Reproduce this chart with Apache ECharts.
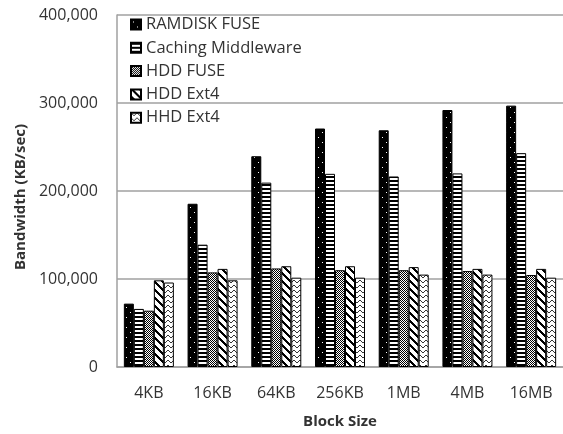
<!DOCTYPE html>
<html>
<head>
<meta charset="utf-8">
<script src="https://cdn.jsdelivr.net/npm/echarts@6/dist/echarts.min.js"></script>
<style>
html,body{margin:0;padding:0;background:#fff;}
#c{width:563px;height:434px;}
</style>
</head>
<body>
<div id="c"></div>
<script>
var categories = ['4KB', '16KB', '64KB', '256KB', '1MB', '4MB', '16MB'];
var seriesNames = ['RAMDISK FUSE', 'Caching Middleware', 'HDD FUSE', 'HDD Ext4', 'HHD Ext4'];
var ramdiskFuse = [72000, 185500, 239500, 271000, 269000, 292000, 297000];
var cachingMiddleware = [66000, 139000, 209500, 219500, 216500, 220000, 243000];
var hddFuse = [64000, 107500, 112000, 110000, 110000, 109000, 104500];
var hddExt4 = [98500, 111500, 114500, 114500, 113500, 111500, 111500];
var hhdExt4 = [96000, 98500, 101500, 101500, 105000, 105000, 101500];
var yTicks = [0, 100000, 200000, 300000, 400000];

function makeTile(w, h, fn) {
  var c = document.createElement('canvas');
  c.width = w; c.height = h;
  var ctx = c.getContext('2d');
  fn(ctx, w, h);
  return c;
}
function px(ctx, x, y, col) { ctx.fillStyle = col; ctx.fillRect(x, y, 1, 1); }

var patDots = makeTile(8, 10, function (ctx, w, h) {
  ctx.fillStyle = '#000'; ctx.fillRect(0, 0, w, h);
  px(ctx, 2, 2, '#fff'); px(ctx, 6, 7, '#fff');
});
var patHoriz = makeTile(4, 4, function (ctx, w, h) {
  ctx.fillStyle = '#fff'; ctx.fillRect(0, 0, w, h);
  ctx.fillStyle = '#000'; ctx.fillRect(0, 0, w, 2);
});
var patCheck = makeTile(4, 4, function (ctx, w, h) {
  ctx.fillStyle = '#fff'; ctx.fillRect(0, 0, w, h);
  for (var y = 0; y < h; y++) for (var x = 0; x < w; x++) {
    if ((x + y) % 2 === 0) px(ctx, x, y, '#000');
  }
  px(ctx, 1, 1, '#000');
});
var patDiag = makeTile(8, 8, function (ctx, w, h) {
  ctx.fillStyle = '#fff'; ctx.fillRect(0, 0, w, h);
  for (var y = 0; y < h; y++) for (var x = 0; x < w; x++) {
    if ((((x - y) % 8) + 8) % 8 < 3) px(ctx, x, y, '#000');
  }
});
var patWave = makeTile(6, 5, function (ctx, w, h) {
  ctx.fillStyle = '#fff'; ctx.fillRect(0, 0, w, h);
  var pts = [[0,0],[1,1],[2,2],[3,2],[4,1],[5,0]];
  pts.forEach(function (p) { px(ctx, p[0], p[1], '#333'); });
});

var patterns = [patDots, patHoriz, patCheck, patDiag, patWave];
var dataSets = [ramdiskFuse, cachingMiddleware, hddFuse, hddExt4, hhdExt4];

var FONT = 'Open Sans';
var chart = echarts.init(document.getElementById('c'), null, {renderer: 'canvas'});
var series = seriesNames.map(function (name, i) {
  return {
    name: name,
    type: 'bar',
    data: dataSets[i],
    barWidth: 10,
    barGap: '0%',
    itemStyle: {
      color: {image: patterns[i], repeat: 'repeat'},
      borderColor: '#000',
      borderWidth: 1
    },
    emphasis: {disabled: true},
    animation: false
  };
});

chart.setOption({
  animation: false,
  backgroundColor: '#fff',
  grid: {left: 117, top: 15, width: 452, bottom: 65, containLabel: false},
  legend: {
    orient: 'vertical',
    left: 130,
    top: 16,
    padding: 0,
    icon: 'rect',
    itemWidth: 10,
    itemHeight: 10,
    itemGap: 6.3,
    selectedMode: false,
    data: seriesNames,
    textStyle: {fontFamily: FONT, fontSize: 16.5, color: '#333', lineHeight: 17}
  },
  xAxis: {
    type: 'category',
    data: categories,
    name: 'Block Size',
    nameLocation: 'middle',
    nameGap: 47,
    nameTextStyle: {fontFamily: FONT, fontSize: 15, fontWeight: 'bold', color: '#333'},
    axisLine: {show: true, lineStyle: {color: '#a0a0a0', width: 1.5}},
    axisTick: {show: false},
    axisLabel: {fontFamily: FONT, fontSize: 16, color: '#333', margin: 18}
  },
  yAxis: {
    type: 'value',
    min: 0,
    max: 400000,
    interval: 100000,
    name: 'Bandwidth (KB/sec)',
    nameLocation: 'middle',
    nameGap: 88,
    nameTextStyle: {fontFamily: FONT, fontSize: 15, fontWeight: 'bold', color: '#333', padding: [0, 12, 0, 0]},
    axisLine: {show: true, lineStyle: {color: '#a0a0a0', width: 1.5}},
    axisTick: {show: false},
    splitLine: {show: true, lineStyle: {color: '#a0a0a0', width: 1.5}},
    axisLabel: {
      fontFamily: FONT, fontSize: 16, color: '#333', margin: 19,
      formatter: function (v) { return yTicks.indexOf(v) >= 0 ? v.toLocaleString('en-US') : ''; }
    }
  },
  series: series
});
</script>
</body>
</html>
